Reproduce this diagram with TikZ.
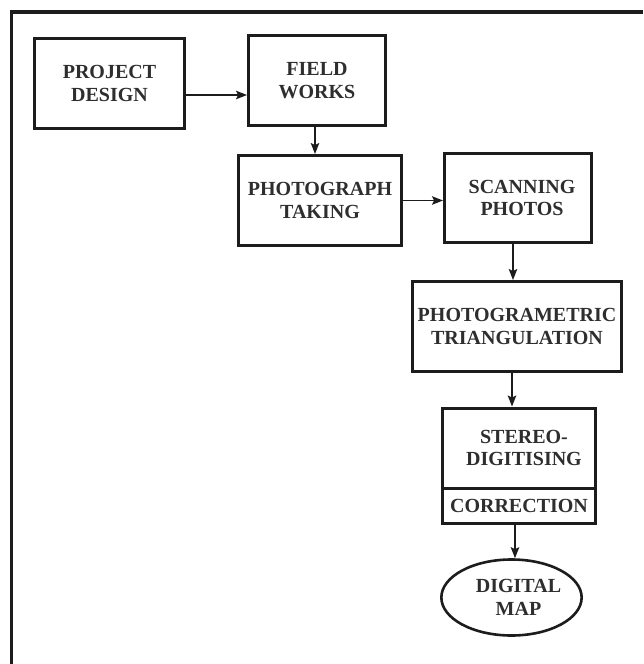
\documentclass[tikz,border=0pt]{standalone}
\usepackage{fontspec}
\setmainfont{Liberation Serif}
\usetikzlibrary{arrows.meta,shapes.geometric}
\definecolor{ink}{HTML}{1C1C1C}
\definecolor{txt}{HTML}{2E2E2E}
\begin{document}
\begin{tikzpicture}[x=1pt,y=-1pt,
  stagebox/.style={draw=ink,line width=3pt,rectangle,inner sep=0pt,align=center,
    text=txt,font=\fontsize{20}{22.5}\selectfont\bfseries},
  mapshape/.style={draw=ink,line width=2.6pt,ellipse,inner sep=0pt,align=center,
    text=txt,font=\fontsize{20}{22.5}\selectfont\bfseries},
  flow/.style={draw=ink,line width=1.4pt,-{Stealth[length=11pt,width=8.5pt,inset=2pt]}}]
\useasboundingbox (0,0) rectangle (643,664);
\fill[white] (0,0) rectangle (643,664);
% outer frame, open at right and bottom
\draw[ink,line width=3.2pt] (11.5,664) -- (11.5,12) -- (643,12);

\node[stagebox,minimum width=150pt,minimum height=90pt] (pd) at (109.5,83.5) {PROJECT\\DESIGN};
\node[stagebox,minimum width=137pt,minimum height=90pt] (fw) at (317,80.5) {FIELD\\WORKS};
\node[stagebox,minimum width=163pt,minimum height=90pt] (pt) at (320,200.5) {PHOTOGRAPH\\TAKING};
\node[stagebox,minimum width=147pt,minimum height=89pt] (sp) at (518,198) {\hspace*{8pt}SCANNING\\\hspace*{8pt}PHOTOS};
\node[stagebox,minimum width=209pt,minimum height=90pt] (tri) at (517,326.5) {PHOTOGRAMETRIC\\TRIANGULATION};
\node[stagebox,minimum width=153pt,minimum height=80pt] (sd) at (519,448) {\hspace*{10pt}STEREO-\\\hspace*{10pt}DIGITISING};
\node[stagebox,minimum width=153pt,minimum height=35pt] (cor) at (519,505.5) {CORRECTION};
\node[mapshape,minimum width=138pt,minimum height=76pt] (map) at (511.5,597.5) {\hspace*{14pt}DIGITAL\\\hspace*{14pt}MAP};

\draw[flow] ([yshift=-11.5pt]pd.east) -- ([yshift=-11.5pt]pd.east -| fw.west);
\draw[flow] ([xshift=-2pt]fw.south) -- ([xshift=-2pt]fw.south |- pt.north);
\draw[flow] (pt.east) -- (pt.east -| sp.west);
\draw[flow] ([xshift=-5pt]sp.south) -- ([xshift=-5pt]sp.south |- tri.north);
\draw[flow] ([xshift=-5pt]tri.south) -- ([xshift=-5pt]tri.south |- sd.north);
\draw[flow] ([xshift=-4pt]cor.south) -- ([xshift=-4pt]cor.south |- map.north);
\end{tikzpicture}
\end{document}
